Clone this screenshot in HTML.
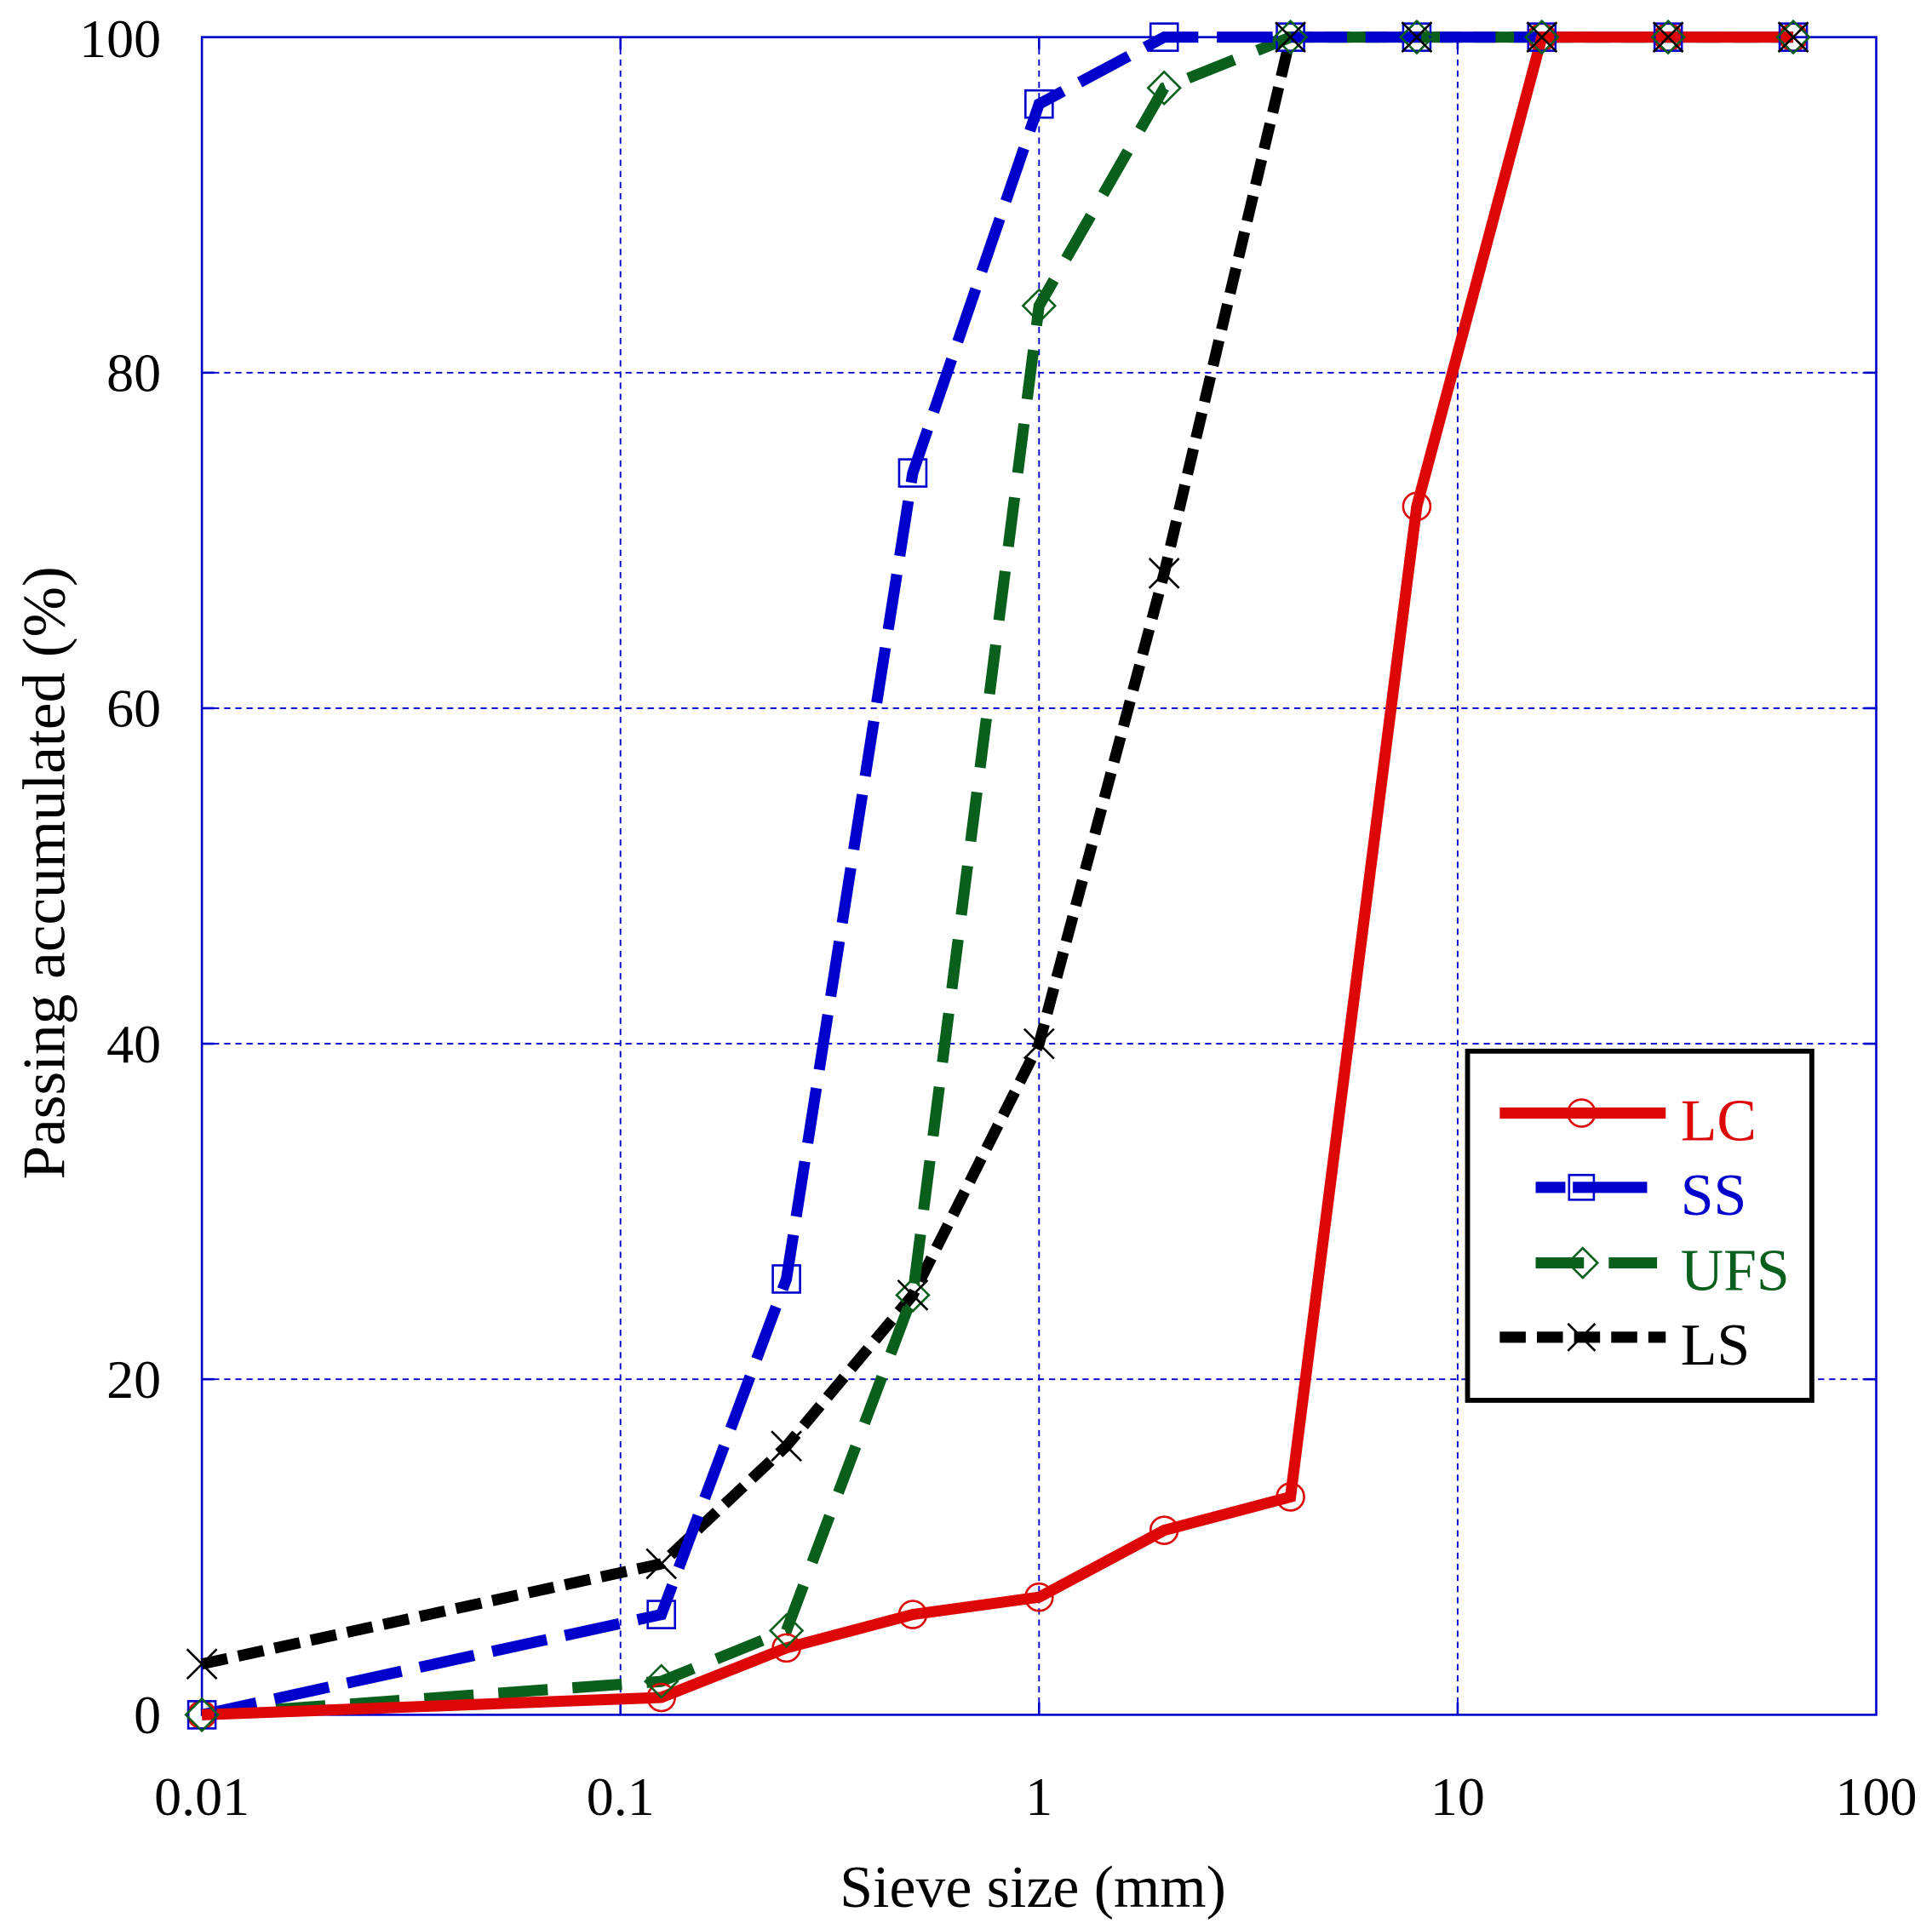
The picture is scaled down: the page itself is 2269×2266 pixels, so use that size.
<!DOCTYPE html>
<html><head><meta charset="utf-8"><style>html,body{margin:0;padding:0;background:#fff}svg{display:block}</style></head>
<body>
<svg width="2269" height="2266" viewBox="0 0 1560 1558" xmlns="http://www.w3.org/2000/svg" font-family="'Liberation Serif', serif">
<rect width="1560" height="1558" fill="#fff"/>
<g stroke="#0000cc" stroke-width="1.3" stroke-dasharray="5,4" fill="none">
<line x1="501" y1="30" x2="501" y2="1385"/><line x1="839" y1="30" x2="839" y2="1385"/><line x1="1177" y1="30" x2="1177" y2="1385"/>
<line x1="163" y1="1114" x2="1515" y2="1114"/><line x1="163" y1="843" x2="1515" y2="843"/><line x1="163" y1="572" x2="1515" y2="572"/><line x1="163" y1="301" x2="1515" y2="301"/>
</g>
<g stroke="#0000cc" stroke-width="1.8" fill="none">
<rect x="163" y="30" width="1352" height="1355"/>
<path d="M501 1385v-10M839 1385v-10M1177 1385v-10M501 30v10M839 30v10M1177 30v10M163 1114h10M163 843h10M163 572h10M163 301h10M1515 1114h-10M1515 843h-10M1515 572h-10M1515 301h-10"/>
</g>
<g font-size="44" fill="#000" text-anchor="end">
<text x="130" y="1400">0</text><text x="130" y="1129">20</text><text x="130" y="858">40</text><text x="130" y="587">60</text><text x="130" y="316">80</text><text x="130" y="46">100</text>
</g>
<g font-size="44" fill="#000" text-anchor="middle">
<text x="163" y="1466">0.01</text><text x="501" y="1466">0.1</text><text x="839" y="1466">1</text><text x="1177" y="1466">10</text><text x="1515" y="1466">100</text>
<text x="834" y="1540" font-size="48">Sieve size (mm)</text>
<text transform="translate(52 705) rotate(-90)" font-size="49">Passing accumulated (%)</text>
</g>
<g fill="none" stroke-width="9">
<polyline stroke="#000" stroke-dasharray="21,9" points="163,1344 534,1263 635,1168 737,1046 839,843 940,463 1042,30 1144,30 1245,30 1347,30 1448,30"/>
<polyline stroke="#0a5f1c" stroke-dasharray="40,20" points="163,1385 534,1358 635,1317 737,1046 839,247 940,71 1042,30 1144,30 1245,30 1347,30 1448,30"/>
<polyline stroke="#0000cc" stroke-dasharray="45,15" points="163,1385 534,1304 635,1033 737,382 839,84 940,30 1042,30 1144,30 1245,30 1347,30 1448,30"/>
<polyline stroke="#dd0707" points="163,1385 534,1371 635,1331 737,1304 839,1290 940,1236 1042,1209 1144,409 1245,30 1347,30 1448,30"/>
</g>
<g fill="none" stroke-width="1.8">
<g stroke="#dd0707"><circle cx="163" cy="1385" r="11"/><circle cx="534" cy="1371" r="11"/><circle cx="635" cy="1331" r="11"/><circle cx="737" cy="1304" r="11"/><circle cx="839" cy="1290" r="11"/><circle cx="940" cy="1236" r="11"/><circle cx="1042" cy="1209" r="11"/><circle cx="1144" cy="409" r="11"/><circle cx="1245" cy="30" r="11"/><circle cx="1347" cy="30" r="11"/><circle cx="1448" cy="30" r="11"/></g>
<g stroke="#0000cc"><rect x="152" y="1374" width="22" height="22"/><rect x="523" y="1293" width="22" height="22"/><rect x="624" y="1022" width="22" height="22"/><rect x="726" y="371" width="22" height="22"/><rect x="828" y="73" width="22" height="22"/><rect x="929" y="19" width="22" height="22"/><rect x="1031" y="19" width="22" height="22"/><rect x="1133" y="19" width="22" height="22"/><rect x="1234" y="19" width="22" height="22"/><rect x="1336" y="19" width="22" height="22"/><rect x="1437" y="19" width="22" height="22"/></g>
<g stroke="#0a5f1c"><path d="M163 1372l13 13-13 13-13-13zM534 1345l13 13-13 13-13-13zM635 1304l13 13-13 13-13-13zM737 1033l13 13-13 13-13-13zM839 234l13 13-13 13-13-13zM940 58l13 13-13 13-13-13zM1042 17l13 13-13 13-13-13zM1144 17l13 13-13 13-13-13zM1245 17l13 13-13 13-13-13zM1347 17l13 13-13 13-13-13zM1448 17l13 13-13 13-13-13z"/></g>
<g stroke="#000"><path d="M151 1332l24 24M151 1356l24-24M522 1251l24 24M522 1275l24-24M623 1156l24 24M623 1180l24-24M725 1034l24 24M725 1058l24-24M827 831l24 24M827 855l24-24M928 451l24 24M928 475l24-24M1030 18l24 24M1030 42l24-24M1132 18l24 24M1132 42l24-24M1233 18l24 24M1233 42l24-24M1335 18l24 24M1335 42l24-24M1436 18l24 24M1436 42l24-24"/></g>
</g>
<rect x="1185" y="849" width="278" height="282" fill="#fff" stroke="#000" stroke-width="4"/>
<g stroke-width="9">
<line x1="1211" y1="899" x2="1345" y2="899" stroke="#dd0707"/>
<line x1="1240" y1="959" x2="1338" y2="959" stroke="#0000cc" stroke-dasharray="24,6,60"/>
<line x1="1240" y1="1020" x2="1338" y2="1020" stroke="#0a5f1c" stroke-dasharray="39,20"/>
<line x1="1211" y1="1080" x2="1345" y2="1080" stroke="#000" stroke-dasharray="21,9"/>
</g>
<g fill="none" stroke-width="1.8">
<circle cx="1277" cy="899" r="11" stroke="#dd0707"/>
<rect x="1267" y="949" width="20" height="20" stroke="#0000cc"/>
<path d="M1278 1008l12 12-12 12-12-12z" stroke="#0a5f1c"/>
<path d="M1266 1069l22 22M1266 1091l22-22" stroke="#000"/>
</g>
<g font-size="48">
<text x="1357" y="921" fill="#dd0707">LC</text>
<text x="1357" y="981" fill="#0000cc">SS</text>
<text x="1357" y="1042" fill="#0a5f1c">UFS</text>
<text x="1357" y="1102" fill="#000">LS</text>
</g>
</svg>
</body></html>
